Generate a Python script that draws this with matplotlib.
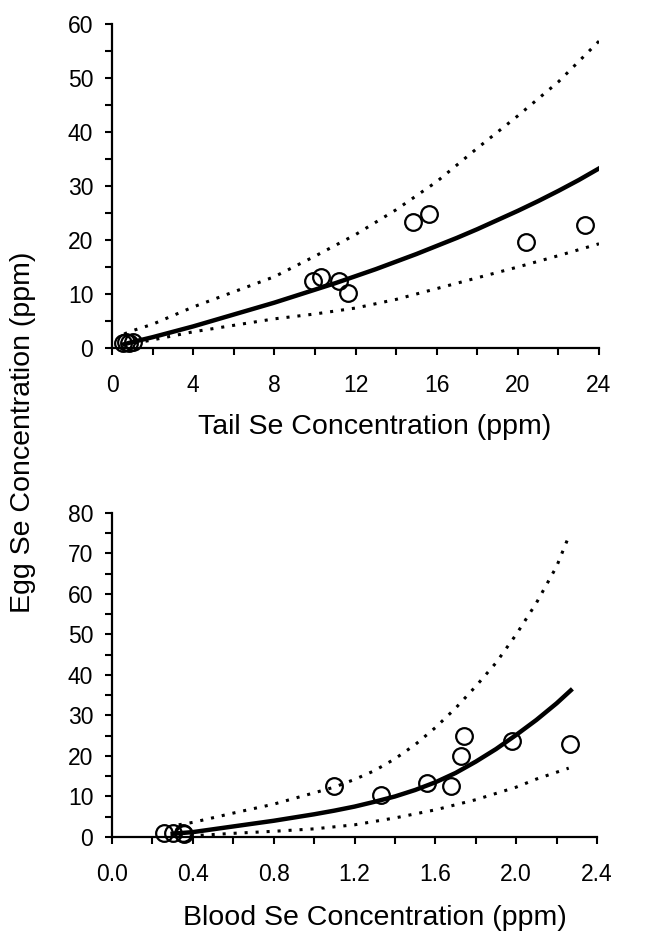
import matplotlib
matplotlib.use("Agg")
import matplotlib.pyplot as plt
from matplotlib.ticker import MultipleLocator, FixedLocator

plt.rcParams['font.family'] = ['Liberation Sans', 'DejaVu Sans']

# ---- Top panel: Tail Se vs Egg Se ----
tail_x = [0.55, 0.7, 0.85, 1.05, 9.9, 10.3, 11.2, 11.65, 14.85, 15.6, 20.4, 23.3]
tail_y = [1.0, 1.1, 1.0, 1.1, 12.4, 13.2, 12.5, 10.2, 23.4, 24.8, 19.7, 22.7]

tail_fit_x = [0.6, 1.0, 2, 3, 4, 5, 6, 7, 8, 9, 10, 11, 12, 13, 14, 15, 16, 17, 18, 19, 20, 21, 22, 23, 24.3]
tail_fit_y = [0.7, 1.1, 2.0, 3.0, 4.0, 5.1, 6.2, 7.3, 8.4, 9.6, 10.8, 12.0, 13.3, 14.6, 16.0, 17.4, 18.9, 20.4, 22.0, 23.7, 25.4, 27.2, 29.1, 31.1, 33.9]
tail_up_x = [0.6, 1.0, 2, 4, 6, 8, 10, 12, 14, 16, 18, 20, 22, 24.1]
tail_up_y = [2.6, 3.2, 4.4, 7.6, 10.4, 13.2, 17.0, 21.0, 25.6, 30.8, 37.0, 43.0, 49.3, 57.2]
tail_lo_x = [0.6, 1.0, 2, 4, 6, 8, 10, 12, 14, 16, 18, 20, 22, 24.0]
tail_lo_y = [0.3, 0.8, 1.5, 3.0, 4.2, 5.4, 6.3, 7.4, 9.0, 11.0, 13.0, 15.0, 17.1, 19.3]

# ---- Bottom panel: Blood Se vs Egg Se ----
blood_x = [0.255, 0.30, 0.35, 0.355, 1.10, 1.33, 1.56, 1.675, 1.725, 1.74, 1.98, 2.265]
blood_y = [1.0, 1.1, 1.0, 0.8, 12.5, 10.4, 13.3, 12.5, 19.9, 25.0, 23.6, 23.0]

blood_fit_x = [0.30, 0.4, 0.5, 0.6, 0.7, 0.8, 0.9, 1.0, 1.1, 1.2, 1.3, 1.4, 1.5, 1.6, 1.7, 1.8, 1.9, 2.0, 2.1, 2.2, 2.27]
blood_fit_y = [0.8, 1.2, 1.9, 2.6, 3.3, 4.0, 4.8, 5.6, 6.5, 7.5, 8.7, 10.0, 11.6, 13.5, 15.8, 18.6, 21.7, 25.2, 28.9, 33.0, 36.2]
blood_up_x = [0.33, 0.4, 0.6, 0.8, 1.0, 1.1, 1.2, 1.3, 1.4, 1.5, 1.6, 1.7, 1.8, 1.9, 2.0, 2.1, 2.2, 2.26]
blood_up_y = [3.0, 3.6, 5.9, 8.1, 10.9, 12.3, 14.2, 16.4, 19.3, 22.8, 27.0, 31.8, 37.2, 43.0, 50.0, 57.8, 66.8, 74.2]
blood_lo_x = [0.33, 0.4, 0.6, 0.8, 1.0, 1.2, 1.4, 1.6, 1.8, 2.0, 2.1, 2.26]
blood_lo_y = [0.2, 0.3, 0.9, 1.4, 2.0, 3.0, 4.7, 6.7, 9.2, 12.3, 14.3, 17.0]

tail_xticks = [0, 4, 8, 12, 16, 20, 24]
tail_yticks = [0, 10, 20, 30, 40, 50, 60]
blood_xticks = [0.0, 0.4, 0.8, 1.2, 1.6, 2.0, 2.4]
blood_yticks = [0, 10, 20, 30, 40, 50, 60, 70, 80]

fig = plt.figure(figsize=(6.55, 9.31), dpi=100)
ax1 = fig.add_axes([0.171, 0.6262, 0.7435, 0.348])
ax2 = fig.add_axes([0.171, 0.101, 0.7405, 0.348])

dot = (0, (1.0, 2.6))
TICK_FS = 16.5
LABEL_FS = 20.5

def style(ax, xt, yt, xminor, yminor, xlim, ylim, xfmt):
    for s in ['top', 'right']:
        ax.spines[s].set_visible(False)
    for s in ['left', 'bottom']:
        ax.spines[s].set_linewidth(1.6)
    ax.set_xlim(*xlim)
    ax.set_ylim(*ylim)
    ax.xaxis.set_major_locator(FixedLocator(xt))
    ax.yaxis.set_major_locator(FixedLocator(yt))
    ax.set_xticklabels([xfmt(v) for v in xt])
    ax.set_yticklabels([str(v) for v in yt])
    ax.xaxis.set_minor_locator(MultipleLocator(xminor))
    ax.yaxis.set_minor_locator(MultipleLocator(yminor))
    ax.tick_params(which='both', direction='out', length=5, width=1.5, labelsize=TICK_FS)
    ax.tick_params(axis='x', which='major', pad=13.5)
    ax.tick_params(axis='y', which='major', pad=8.5)

ax1.plot(tail_up_x, tail_up_y, color='black', lw=2.2, linestyle=dot)
ax1.plot(tail_lo_x, tail_lo_y, color='black', lw=2.2, linestyle=dot)
ax1.plot(tail_fit_x, tail_fit_y, color='black', lw=3.2)
ax1.plot(tail_x, tail_y, linestyle='none', marker='o', markersize=12,
         markerfacecolor='none', markeredgecolor='black', markeredgewidth=1.6, clip_on=False)
style(ax1, tail_xticks, tail_yticks, 2, 5, (0, 24), (0, 60), lambda v: str(v))

ax2.plot(blood_up_x, blood_up_y, color='black', lw=2.2, linestyle=dot)
ax2.plot(blood_lo_x, blood_lo_y, color='black', lw=2.2, linestyle=dot)
ax2.plot(blood_fit_x, blood_fit_y, color='black', lw=3.2)
ax2.plot(blood_x, blood_y, linestyle='none', marker='o', markersize=12,
         markerfacecolor='none', markeredgecolor='black', markeredgewidth=1.6, clip_on=False)
style(ax2, blood_xticks, blood_yticks, 0.2, 5, (0, 2.4), (0, 80), lambda v: f"{v:.1f}")

fig.text(375 / 655, 1 - 434 / 931, 'Tail Se Concentration (ppm)', fontsize=LABEL_FS,
         ha='center', va='baseline')
fig.text(375 / 655, 1 - 925 / 931, 'Blood Se Concentration (ppm)', fontsize=LABEL_FS,
         ha='center', va='baseline')
fig.text(23 / 655, 1 - 432 / 931, 'Egg Se Concentration (ppm)', rotation=90, fontsize=LABEL_FS,
         ha='center', va='center')

fig.savefig('out.png', dpi=100)
